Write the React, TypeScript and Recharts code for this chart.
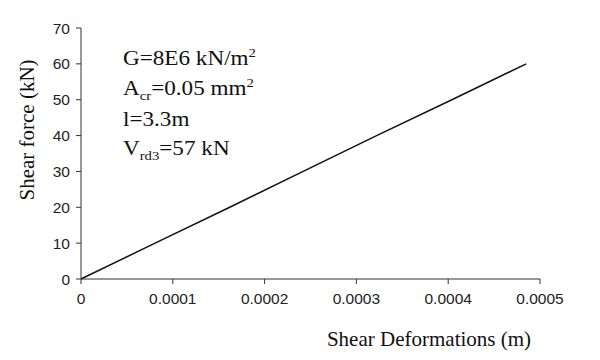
import React from "react";
import { LineChart, Line, XAxis, YAxis, Customized } from "recharts";

const deformation = [0, 0.0000807, 0.000162, 0.000242, 0.000322, 0.000404, 0.000485];
const shearForce = [0, 10, 20, 30, 40, 50, 60];
const xTicks = [0, 0.0001, 0.0002, 0.0003, 0.0004, 0.0005];
const yTicks = [0, 10, 20, 30, 40, 50, 60, 70];

const data = deformation.map((x, i) => ({ x, y: shearForce[i] }));

const serif = "'Liberation Serif', 'Times New Roman', serif";
const sans = "'Liberation Sans', Arial, sans-serif";
const ink = "#111";

const fmtX = (v: number) => (v === 0 ? "0" : v.toFixed(4));

const XTick = (props: any) => {
  const { x, y, payload } = props;
  return (
    <text x={x} y={y + 16} textAnchor="middle" fontFamily={sans} fontSize={15.5} fill="#222">
      {fmtX(payload.value)}
    </text>
  );
};

const YTick = (props: any) => {
  const { x, y, payload } = props;
  return (
    <text x={x - 2} y={y + 5.5} textAnchor="end" fontFamily={sans} fontSize={15.5} fill="#222">
      {payload.value}
    </text>
  );
};

const Annotations = () => (
  <g fontFamily={serif} fill={ink}>
    <g transform="translate(123,0) scale(1.13,1)" fontSize={20.5}>
      <text x={0} y={65}>
        G=8E6 kN/m<tspan dy={-8} fontSize={13} fill={ink}>2</tspan>
      </text>
      <text x={0} y={95}>
        A<tspan dy={5} fontSize={13} fill={ink}>cr</tspan>
        <tspan dy={-5} fill={ink}>=0.05 mm</tspan>
        <tspan dy={-8} fontSize={13} fill={ink}>2</tspan>
      </text>
      <text x={0} y={126}>l=3.3m</text>
      <text x={0} y={155}>
        V<tspan dy={5} fontSize={13} fill={ink}>rd3</tspan>
        <tspan dy={-5} fill={ink}>=57 kN</tspan>
      </text>
    </g>
    <text x={429} y={346} fontSize={21} textAnchor="middle">
      Shear Deformations (m)
    </text>
    <text x={34} y={130} fontSize={21} textAnchor="middle" transform="rotate(-90 34 130)">
      Shear force (kN)
    </text>
  </g>
);

export default function App() {
  return (
    <div style={{ position: "absolute", left: 0, top: 0, background: "#fff" }}>
      <LineChart
        width={600}
        height={360}
        data={data}
        margin={{ top: 28, right: 60, bottom: 51, left: 0 }}
      >
        <XAxis
          type="number"
          dataKey="x"
          domain={[0, 0.0005]}
          ticks={xTicks}
          height={30}
          tickSize={5}
          tickMargin={4}
          stroke="#333"
          tick={<XTick />}
          interval={0}
        />
        <YAxis
          type="number"
          dataKey="y"
          domain={[0, 70]}
          ticks={yTicks}
          width={81}
          tickSize={5}
          tickMargin={4}
          stroke="#333"
          tick={<YTick />}
          interval={0}
        />
        <Line
          type="linear"
          dataKey="y"
          stroke="#111"
          strokeWidth={1.5}
          dot={false}
          isAnimationActive={false}
        />
        <Customized component={<Annotations />} />
      </LineChart>
    </div>
  );
}
